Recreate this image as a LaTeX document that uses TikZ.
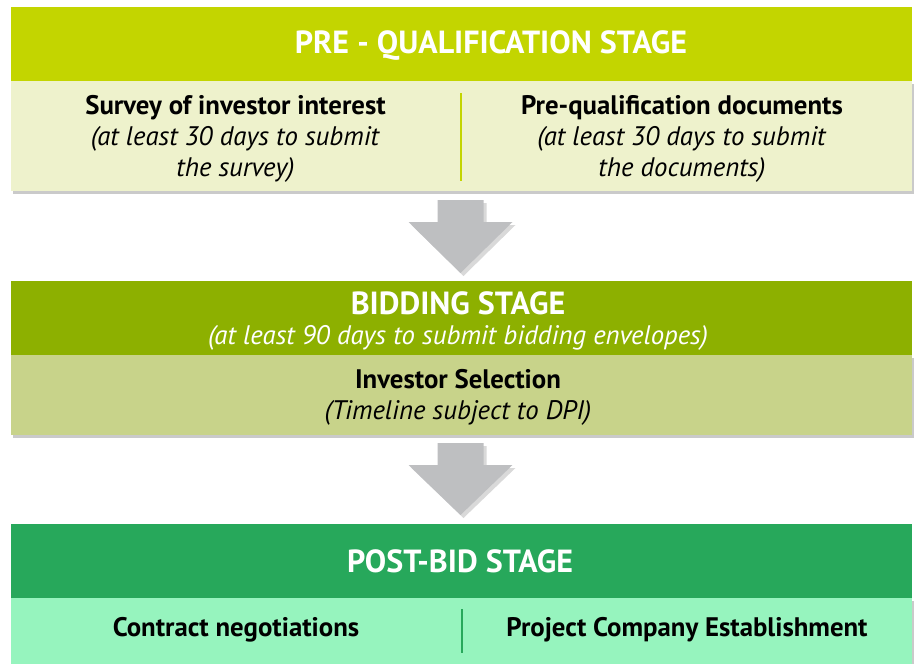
\documentclass[tikz,border=0pt]{standalone}
\usepackage{fontspec}
\setmainfont{PT Sans}
\usetikzlibrary{shadows,calc}
\definecolor{hdrA}{RGB}{195,213,0}
\definecolor{lgtA}{RGB}{238,242,204}
\definecolor{hdrB}{RGB}{141,176,0}
\definecolor{lgtB}{RGB}{200,211,138}
\definecolor{hdrC}{RGB}{39,168,91}
\definecolor{lgtC}{RGB}{150,244,190}
\definecolor{arrgray}{RGB}{190,191,193}
\tikzset{
  boxshadow/.style={drop shadow={opacity=0.35,shadow xshift=2pt,shadow yshift=-3pt,fill=black!60}},
  band/.style={rectangle,inner sep=0pt,minimum width=901pt,anchor=north,outer sep=0pt},
  headtxt/.style={text=white,font=\fontsize{32}{36}\selectfont\bfseries},
  bodytxt/.style={align=center,font=\fontsize{26.8}{31}\selectfont},
  flowarrow/.style={fill=arrgray,drop shadow={opacity=0.3,shadow xshift=3pt,shadow yshift=-3pt,fill=black!50}},
  divline/.style={line width=2.5pt}
}
\begin{document}
\begin{tikzpicture}[x=1pt,y=-1pt]
\useasboundingbox (0,0) rectangle (914,664);
% Stage 1
\node[band,fill=lgtA,minimum height=110pt,boxshadow] (l1) at (461.5,81) {};
\node[band,fill=hdrA,minimum height=74pt] (h1) at (461.5,7) {};
\node[headtxt] (t1) at (491,46) {PRE - QUALIFICATION STAGE};
\draw[hdrA,divline] (461,93) coordinate (d1a) -- (461,181) coordinate (d1b);
\node[bodytxt] (s1) at (235.5,139) {\textbf{Survey of investor interest}\\\textit{(at least 30 days to submit}\\\textit{the survey)}};
\node[bodytxt] (s2) at (682,139) {\textbf{Pre-qualification documents}\\\textit{(at least 30 days to submit}\\\textit{the documents)}};
% Stage 2
\node[band,fill=lgtB,minimum height=80pt,boxshadow] (l2) at (461.5,355) {};
\node[band,fill=hdrB,minimum height=74pt] (h2) at (461.5,281) {};
\node[text=white,align=center,font=\fontsize{26.8}{30}\selectfont] (t2) at (458,321) {{\fontsize{32}{30}\selectfont\bfseries BIDDING STAGE}\\\textit{(at least 90 days to submit bidding envelopes)}};
\node[bodytxt] (s3) at (458,397) {\textbf{Investor Selection}\\\textit{(Timeline subject to DPI)}};
% Stage 3
\node[band,fill=lgtC,minimum height=66pt,boxshadow] (l3) at (461.5,598) {};
\node[band,fill=hdrC,minimum height=74pt] (h3) at (461.5,524) {};
\node[headtxt] (t3) at (460,561) {POST-BID STAGE};
\draw[hdrC,divline] (462,609) coordinate (d3a) -- (462,653) coordinate (d3b);
\node[bodytxt,font=\fontsize{26.8}{31}\selectfont\bfseries] (s4) at (236,630) {Contract negotiations};
\node[bodytxt,font=\fontsize{26.8}{31}\selectfont\bfseries] (s5) at (687,630) {Project Company Establishment};
% Arrows
\path[flowarrow] ($(l1.south)+(-24,9)$) -- ($(l1.south)+(22,9)$) -- ($(l1.south)+(22,31)$) -- ($(l1.south)+(51,31)$) -- ($(h2.north)+(-1,-8)$) -- ($(l1.south)+(-53,31)$) -- ($(l1.south)+(-24,31)$) -- cycle;
\path[flowarrow] ($(l2.south)+(-24,8)$) -- ($(l2.south)+(22,8)$) -- ($(l2.south)+(22,30)$) -- ($(l2.south)+(51,30)$) -- ($(h3.north)+(-1,-9)$) -- ($(l2.south)+(-53,30)$) -- ($(l2.south)+(-24,30)$) -- cycle;
\end{tikzpicture}
\end{document}
